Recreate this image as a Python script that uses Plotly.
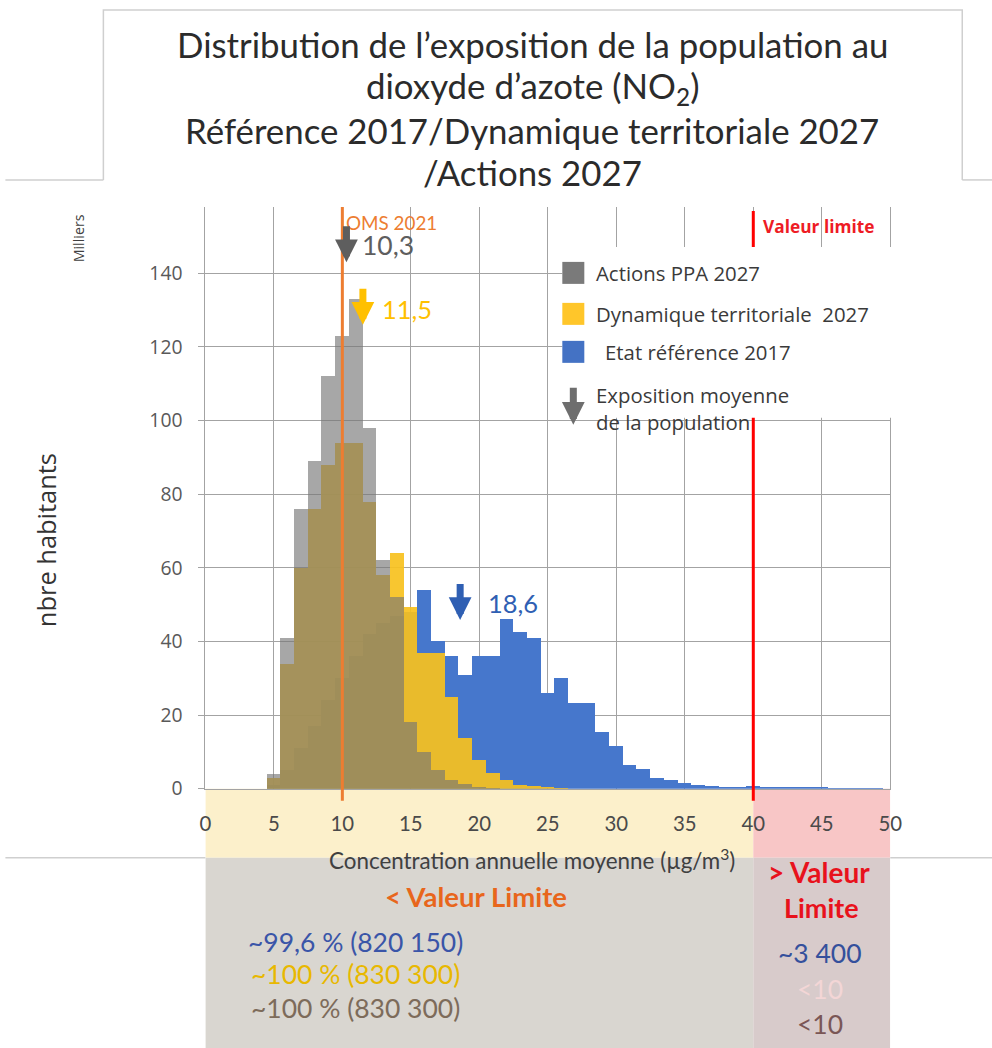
import plotly.graph_objects as go

W, H = 992, 1048

# page-pixel -> figure conversion (the figure is drawn slightly reduced on the page)
SX, OX = 0.982, 5.6
SY, OY = 0.988, 0.0

# ---- data (thousands of inhabitants per 1 µg/m3 concentration class) ----
concentration = list(range(5, 51))

reference_2017 = [1, 5, 11, 17, 24, 30, 36, 42, 45, 47, 48, 54, 40, 36, 31, 36,
                  36, 46, 42.5, 41, 26, 30, 23.4, 23.4, 15.5, 11.5, 6.5, 5.3, 3,
                  2.4, 1.6, 1.1, 0.8, 0.6, 0.5, 0.8, 0.6, 0.5, 0.4, 0.3, 0.3, 0.2,
                  0.1, 0.1, 0.1, 0]
dynamique_2027 = [3, 34, 60, 76, 88, 94, 94, 78, 58, 64, 49.5, 36.8, 36.8, 25,
                  13.8, 7.9, 4.3, 2.4, 1.1, 0.7, 0.4, 0.2] + [0] * 24
actions_2027 = [4, 41, 76, 89, 112, 123, 133, 98, 62, 52, 18, 10, 5, 2.5, 1.2,
                0.6, 0.3] + [0] * 29

series_names = ["Etat référence 2017", "Dynamique territoriale  2027", "Actions PPA 2027"]
series_colors = ["#4677cc", "rgba(247,193,30,0.92)", "rgba(118,118,118,0.64)"]
legend_colors = ["#4472c4", "#ffc62a", "#7a7a7a"]
mean_exposure = [18.6, 11.5, 10.3]
mean_colors = ["#2f5fb3", "#ffc000", "#5e5e5e"]

oms_2021 = 10
valeur_limite = 40

below_limit_text = ["~99,6 % (820 150)", "~100 % (830 300)", "~100 % (830 300)"]
below_limit_colors = ["#3a55a8", "#e8b800", "#7d6b5a"]
above_limit_text = ["~3 400", "<10", "<10"]
above_limit_colors = ["#34509c", "#f3d6d6", "#7a5656"]

title_lines = [
    "Distribution de l’exposition de la population au",
    "dioxyde d’azote (NO<sub>2</sub>)",
    "Référence 2017/Dynamique territoriale 2027",
    "/Actions 2027",
]


def px(x):
    return ((x - OX) / SX) / W


def py(y):
    return 1 - ((y - OY) / SY) / H


def fs(size):
    return size / SX


X_DOM = [px(205), px(890)]
Y_DOM = [py(789), py(207)]
Y_MAX = 158

fig = go.Figure()

for name, vals, color in zip(series_names,
                             [reference_2017, dynamique_2027, actions_2027],
                             series_colors):
    fig.add_bar(x=concentration, y=vals, width=1, name=name,
                marker=dict(color=color, line=dict(width=0)),
                showlegend=False, hoverinfo="skip")

grid = "#a3a3a3"
fig.update_layout(
    width=W, height=H,
    margin=dict(l=0, r=0, t=0, b=0),
    paper_bgcolor="white", plot_bgcolor="white",
    barmode="overlay", bargap=0,
    showlegend=False,
    xaxis=dict(domain=X_DOM, range=[0, 50], tickvals=list(range(0, 51, 5)),
               showgrid=True, gridcolor=grid, gridwidth=1, zeroline=False,
               showline=True, linecolor=grid, ticks="",
               ticklabelstandoff=17,
               tickfont=dict(family="Lato", size=fs(20), color="#4a4a4a")),
    yaxis=dict(domain=Y_DOM, range=[0, Y_MAX], dtick=20,
               showgrid=True, gridcolor=grid, gridwidth=1, zeroline=False,
               showline=True, linecolor=grid, mirror=True,
               ticks="outside", ticklen=6, tickcolor=grid,
               ticklabelstandoff=12,
               tickfont=dict(family="Open Sans", size=fs(19), color="#595959")),
)

shapes = []

# coloured bands under the axis and summary boxes
band_top, band_bot, box_bot = 789, 858, H + 20
shapes += [
    dict(type="rect", xref="x", yref="paper", x0=0, x1=valeur_limite,
         y0=py(band_bot), y1=py(band_top), fillcolor="#fcf0cb", line_width=0, layer="below"),
    dict(type="rect", xref="x", yref="paper", x0=valeur_limite, x1=50,
         y0=py(band_bot), y1=py(band_top), fillcolor="#f8c6c6", line_width=0, layer="below"),
    dict(type="rect", xref="x", yref="paper", x0=0, x1=valeur_limite,
         y0=py(box_bot), y1=py(band_bot), fillcolor="#d9d6d0", line_width=0, layer="below"),
    dict(type="rect", xref="x", yref="paper", x0=valeur_limite, x1=50,
         y0=py(box_bot), y1=py(band_bot), fillcolor="#d8cbcb", line_width=0, layer="below"),
]

# frame lines around the chart and the title box
frame = "#cfcfcf"
shapes += [
    dict(type="line", xref="paper", yref="paper", x0=px(5), x1=px(205),
         y0=py(858), y1=py(858), line=dict(color=frame, width=1.5)),
    dict(type="line", xref="paper", yref="paper", x0=px(890), x1=px(992),
         y0=py(858), y1=py(858), line=dict(color=frame, width=1.5)),
    dict(type="line", xref="paper", yref="paper", x0=px(5), x1=px(103),
         y0=py(180), y1=py(180), line=dict(color=frame, width=1.5)),
    dict(type="line", xref="paper", yref="paper", x0=px(962), x1=px(992),
         y0=py(180), y1=py(180), line=dict(color=frame, width=1.5)),
    dict(type="path", xref="paper", yref="paper",
         path=f"M{px(103)},{py(180)} L{px(103)},{py(10)} L{px(962)},{py(10)} L{px(962)},{py(180)}",
         line=dict(color=frame, width=1.5)),
]

# threshold lines
shapes += [
    dict(type="line", xref="x", yref="paper", x0=oms_2021, x1=oms_2021,
         y0=py(801), y1=Y_DOM[1], line=dict(color="#ed7d31", width=3), layer="above"),
    dict(type="line", xref="x", yref="paper", x0=valeur_limite, x1=valeur_limite,
         y0=py(801), y1=py(211), line=dict(color="#ff0000", width=3), layer="above"),
    # legend panel
    dict(type="rect", xref="paper", yref="paper", x0=px(562), x1=px(896),
         y0=py(418), y1=py(247), fillcolor="white", line_width=0, layer="above"),
]

# legend swatches
sw_y = [352, 314, 273]
for yc, col in zip(sw_y, legend_colors):
    shapes.append(dict(type="rect", xref="paper", yref="paper",
                       x0=px(562), x1=px(584), y0=py(yc + 11), y1=py(yc - 11),
                       fillcolor=col, line_width=0, layer="above"))

fig.update_layout(shapes=shapes)

ann = []


def label(text, x, y, size, color, family="Lato", xanchor="center", **kw):
    ann.append(dict(text=text, x=px(x), y=py(y), xref="paper", yref="paper",
                    showarrow=False, xanchor=xanchor, yanchor="middle",
                    font=dict(family=family, size=fs(size), color=color), **kw))


# title
for line, yc in zip(title_lines, [45, 88, 131, 173]):
    label(line, 532, yc, 34.2, "#2b2b2b")

# axis titles
label("nbre habitants", 45, 540, 25, "#333333", family="Open Sans", textangle=-90)
label("Milliers", 79, 238, 14, "#404040", family="Open Sans", textangle=-90)
label("Concentration annuelle moyenne (µg/m<sup>3</sup>)", 532, 860, 22, "#404040")

# threshold labels
ann.append(dict(text="OMS 2021", x=oms_2021, y=py(223), xref="x", yref="paper",
                xanchor="left", yanchor="middle", xshift=2, showarrow=False,
                font=dict(family="Lato", size=fs(18.5), color="#ed7d31")))
ann.append(dict(text="<b>Valeur limite</b>", x=valeur_limite, y=py(226), xref="x", yref="paper",
                xanchor="left", yanchor="middle", xshift=8, showarrow=False,
                font=dict(family="Open Sans", size=fs(17), color="#ee1c25")))

# mean exposure arrows and labels
tip_vals = [45.8, 126, 143]
label_vals = [50.5, 130.2, 147.6]
label_shift = [26, 17, 14]
label_sizes = [25, 25, 26]
arrow_len = -37 / SY
for m, col, tip, lv, sh, size in zip(mean_exposure, mean_colors, tip_vals, label_vals,
                                     label_shift, label_sizes):
    ann.append(dict(x=m, y=tip, xref="x", yref="y", text="", showarrow=True,
                    ax=0, ay=arrow_len, arrowhead=2, arrowsize=0.65, arrowwidth=7,
                    arrowcolor=col, standoff=0))
    ann.append(dict(x=m, y=lv, xref="x", yref="y", xanchor="left", yanchor="middle",
                    xshift=sh, text=f"{m:.1f}".replace(".", ","), showarrow=False,
                    font=dict(family="Lato", size=fs(size), color=col)))

# legend texts
for name, yc, xl in zip(series_names, sw_y, [603, 594, 594]):
    label(name.strip(), xl, yc, 20, "#3a3a3a", family="Open Sans", xanchor="left")
label("Exposition moyenne", 594, 395, 20, "#3a3a3a", family="Open Sans", xanchor="left")
label("de la population", 594, 422, 20, "#3a3a3a", family="Open Sans", xanchor="left")
ann.append(dict(x=px(573), y=py(425), xref="paper", yref="paper", text="", showarrow=True,
                ax=0, ay=-38 / SY, arrowhead=2, arrowsize=0.65, arrowwidth=7,
                arrowcolor="#6e6e6e", standoff=0))

# summary below / above the limit value
label("<b>< Valeur Limite</b>", 476, 897, 27, "#e8661c")
label("<b>> Valeur</b>", 819, 872, 27.5, "#e8121c")
label("<b>Limite</b>", 821, 908, 26.5, "#e8121c")
for txt, col, yc in zip(below_limit_text, below_limit_colors, [942, 974, 1008]):
    label(txt, 355, yc, 26, col)
for txt, col, yc in zip(above_limit_text, above_limit_colors, [953, 989, 1024]):
    label(txt, 820, yc, 26, col)

fig.update_layout(annotations=ann)

fig.write_html("out.html")
